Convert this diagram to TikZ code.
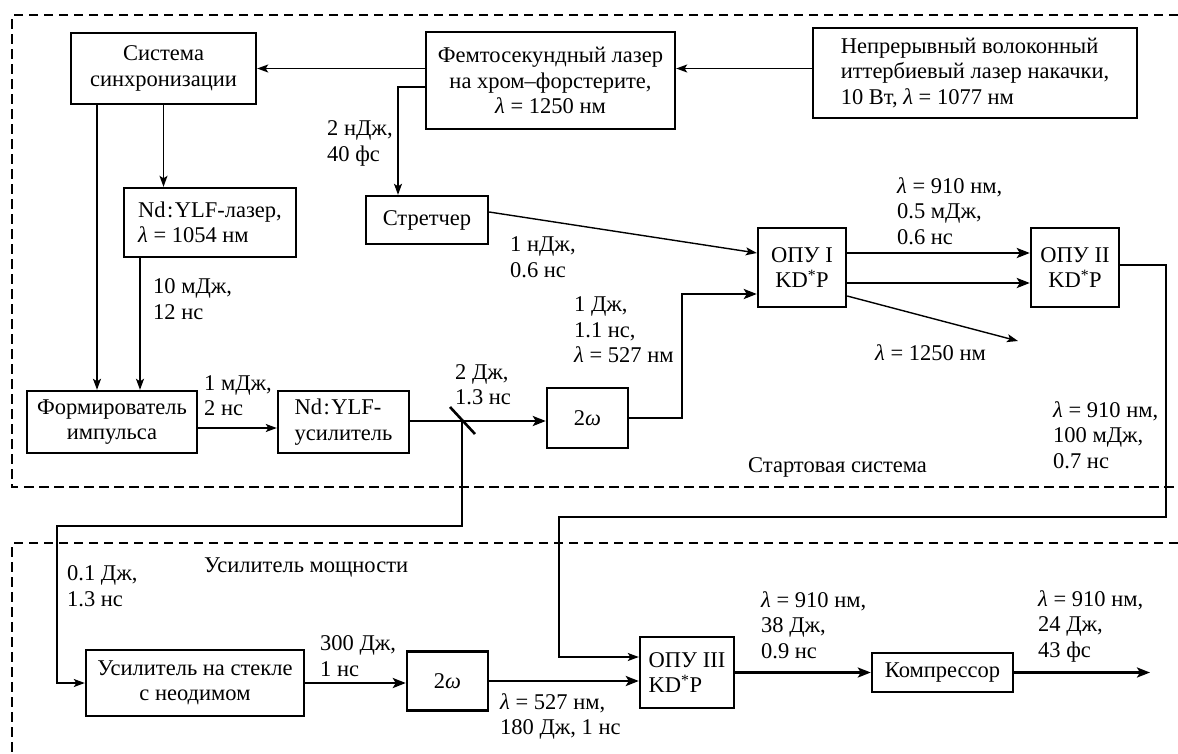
\documentclass[tikz,border=0pt]{standalone}
\usepackage{fontspec}
\setmainfont{Liberation Serif}
\usetikzlibrary{arrows.meta,calc}
\begin{document}
\begin{tikzpicture}[x=1pt,y=-1pt,
  font=\fontsize{22.5}{25.5}\selectfont,
  box/.style={draw, line width=2.4pt, inner sep=0pt, align=center},
  lbox/.style={box, align=left},
  conn/.style={line width=1.4pt, -{Stealth[length=11pt,width=8pt,inset=2.5pt]}},
  beam/.style={line width=2.6pt, -{Stealth[length=13pt,width=10pt,inset=3pt]}},
  lbl/.style={align=left, anchor=west, inner sep=0pt},
  frame/.style={line width=2.5pt, dash pattern=on 9.5pt off 5.5pt}]
\fill[white] (0,0) rectangle (1178,753);
\useasboundingbox (0,0) rectangle (1178,753);

% frames
\draw[frame] (1178,15) -- (12,15) -- (12,487) -- (1178,487);
\draw[frame] (1178,543) -- (12,543) -- (12,753);

% boxes
\node[box, minimum width=185pt, minimum height=71pt] (sync) at (163.5,68.5) {Система\\синхронизации};
\node[box, minimum width=249pt, minimum height=97pt] (femto) at (550.5,80.5) {Фемтосекундный лазер\\на хром–форстерите,\\\textit{λ} = 1250 нм};
\node[lbox, minimum width=324pt, minimum height=90pt] (cw) at (975,73) {Непрерывный волоконный\\иттербиевый лазер накачки,\\10 Вт, \textit{λ} = 1077 нм};
\node[lbox, minimum width=172pt, minimum height=69pt] (ndlaser) at (210,222.5) {Nd\kern1.5pt:\kern1.5ptYLF-лазер,\\\textit{λ} = 1054 нм};
\node[box, minimum width=122pt, minimum height=48pt] (stretch) at (427,220) {Стретчер};
\node[box, minimum width=88pt, minimum height=79pt] (opa1) at (802,267.5) {ОПУ I\\KD\textsuperscript{*}P};
\node[box, minimum width=88pt, minimum height=79pt] (opa2) at (1075,267.5) {ОПУ II\\KD\textsuperscript{*}P};
\node[box, minimum width=170pt, minimum height=62pt] (former) at (112,422) {Формирователь\\импульса};
\node[lbox, minimum width=131pt, minimum height=62pt] (ndamp) at (343.5,422) {Nd\kern1.5pt:\kern1.5ptYLF-\\усилитель};
\node[box, minimum width=81pt, minimum height=60pt] (shg1) at (587.5,418) {2\textit{ω}};
\node[box, minimum width=218pt, minimum height=66pt] (glass) at (195,683) {Усилитель на стекле\\с неодимом};
\node[box, minimum width=81pt, minimum height=59pt] (shg2) at (447.5,681) {2\textit{ω}};
\node[lbox, minimum width=94pt, minimum height=71pt] (opa3) at (687,672.5) {ОПУ III\\KD\textsuperscript{*}P};
\node[box, minimum width=141pt, minimum height=39pt] (comp) at (942.5,672.5) {Компрессор};

% helper coordinates
\coordinate (fs) at (398,87);
\coordinate (sf) at (97,104);
\coordinate (lf) at (140,257);
\coordinate (fa) at (197,428);
\coordinate (m) at (462,421);
\coordinate (b1) at (462,526);
\coordinate (b2) at (57,526);
\coordinate (u) at (682,294);
\coordinate (s1) at (488,212);
\coordinate (s2) at (758,253);
\coordinate (s3) at (846,283);
\coordinate (s4) at (846,296);
\coordinate (idl) at (1018,341);
\coordinate (r1) at (1166,265);
\coordinate (r2) at (1166,517);
\coordinate (r3) at (559,517);
\coordinate (r4) at (559,657);
\coordinate (out) at (1150,672.5);

% connectors
\draw[conn] (femto.west |- sync.east) -- (sync.east);
\draw[conn] (cw.west |- sync.east) -- (femto.east |- sync.east);
\draw[conn] (femto.west |- fs) -- (fs) -- (fs |- stretch.north);
\draw[conn] (sync.south) -- (sync.south |- ndlaser.north);
\draw[conn] (sync.south -| sf) -- (sf |- former.north);
\draw[conn] (ndlaser.south -| lf) -- (lf |- former.north);
\draw[conn] (former.east |- fa) -- (ndamp.west |- fa);
\draw[beam] (ndamp.east |- m) -- (shg1.west |- m);
\draw[line width=2.6pt] ($(m)+(-12,-14)$) -- ($(m)+(13,13)$);
\draw[conn] (m) -- (b1) -- (b2) -- (b2 |- glass.west) -- (glass.west);
\draw[beam] (shg1.east) -- (shg1.east -| u) -- (u) -- (opa1.west |- u);
\draw[conn] (stretch.east |- s1) -- (opa1.west |- s2);
\draw[beam] (opa1.east |- s2) -- (opa2.west |- s2);
\draw[beam] (opa1.east |- s3) -- (opa2.west |- s3);
\draw[conn] (opa1.east |- s4) -- (idl);
\draw[conn] (opa2.east |- r1) -- (r1) -- (r2) -- (r3) -- (r4) -- (opa3.west |- r4);
\draw[beam] (glass.east) -- (shg2.west |- glass.east);
\draw[beam] (shg2.east) -- (opa3.west |- shg2.east);
\draw[beam] (opa3.east) -- (comp.west);
\draw[beam] (comp.east) -- (out);

% labels
\node[lbl] (l1) at (327,143.5) {2 нДж,\\40 фс};
\node[lbl] (l2) at (153,299) {10 мДж,\\12 нс};
\node[lbl] (l3) at (204,395.5) {1 мДж,\\2 нс};
\node[lbl] (l4) at (455,384.5) {2 Дж,\\1.3 нс};
\node[lbl] (l5) at (510,257) {1 нДж,\\0.6 нс};
\node[lbl] (l6) at (574,330) {1 Дж,\\1.1 нс,\\\textit{λ} = 527 нм};
\node[lbl] (l7) at (897,211) {\textit{λ} = 910 нм,\\0.5 мДж,\\0.6 нс};
\node[lbl] (l8) at (875,353) {\textit{λ} = 1250 нм};
\node[lbl] (l9) at (1053,435) {\textit{λ} = 910 нм,\\100 мДж,\\0.7 нс};
\node[lbl] (l10) at (748,467) {Стартовая система};
\node[lbl] (l11) at (204,567) {Усилитель мощности};
\node[lbl] (l12) at (67,586) {0.1 Дж,\\1.3 нс};
\node[lbl] (l13) at (320,656) {300 Дж,\\1 нс};
\node[lbl] (l14) at (500,716.5) {\textit{λ} = 527 нм,\\180 Дж, 1 нс};
\node[lbl] (l15) at (761,625) {\textit{λ} = 910 нм,\\38 Дж,\\0.9 нс};
\node[lbl] (l16) at (1038,626) {\textit{λ} = 910 нм,\\24 Дж,\\43 фс};
\end{tikzpicture}
\end{document}
